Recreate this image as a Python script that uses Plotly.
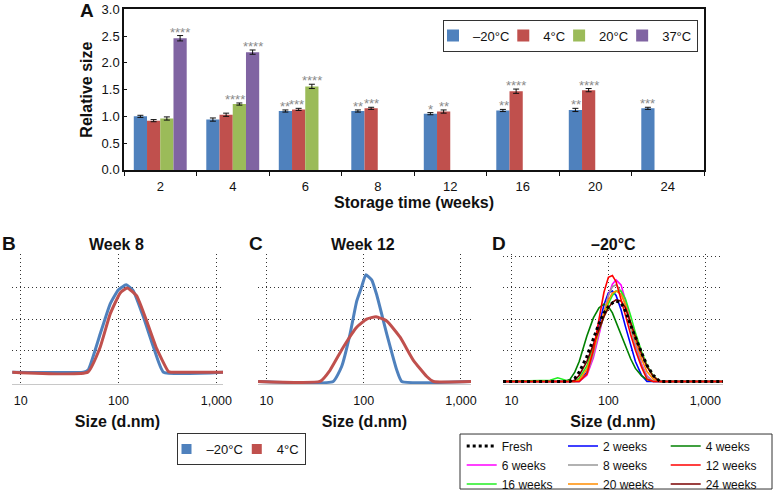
import plotly.graph_objects as go

W, H = 773, 499
FONT = "Liberation Sans, Arial, sans-serif"

# ---------------- Panel A data ----------------
weeks = ["2", "4", "6", "8", "12", "16", "20", "24"]
temps = ["–20°C", "4°C", "20°C", "37°C"]
bar_colors = ["#4F81BD", "#C0504D", "#9BBB59", "#8064A2"]

rel_m20 = [1.00, 0.94, 1.10, 1.10, 1.05, 1.11, 1.12, 1.15]
rel_4 = [0.92, 1.03, 1.13, 1.15, 1.09, 1.47, 1.49, None]
rel_20 = [0.96, 1.23, 1.56, None, None, None, None, None]
rel_37 = [2.46, 2.20, None, None, None, None, None, None]

err_m20 = [0.02, 0.03, 0.02, 0.02, 0.02, 0.02, 0.03, 0.02]
err_4 = [0.02, 0.03, 0.02, 0.02, 0.03, 0.04, 0.03, 0]
err_20 = [0.03, 0.02, 0.04, 0, 0, 0, 0, 0]
err_37 = [0.05, 0.04, 0, 0, 0, 0, 0, 0]

sig_m20 = ["", "", "**", "**", "*", "**", "**", "***"]
sig_4 = ["", "", "***", "***", "**", "****", "****", ""]
sig_20 = ["", "****", "****", "", "", "", "", ""]
sig_37 = ["****", "****", "", "", "", "", "", ""]

# ---------------- Panel B (week 8) ----------------
b_size_m20 = [8.2, 43.7, 49.2, 64.9, 82, 99.8, 119.6, 142, 180, 228, 288, 1170]
b_int_m20 = [1.5, 1.5, 1.9, 7.6, 12.4, 14.7, 15.5, 14.5, 10.3, 5.5, 1.5, 1.5]
b_size_4 = [8.2, 48.5, 64.9, 82, 104, 122.8, 153.8, 194, 245, 323, 345, 1170]
b_int_4 = [1.5, 1.5, 5.5, 10.8, 14.2, 15.0, 13.7, 9.7, 5.3, 1.6, 1.5, 1.5]

# ---------------- Panel C (week 12) ----------------
c_size_m20 = [8.2, 48.6, 59.3, 72.3, 84.7, 95.3, 104.8, 120.7, 136, 172.6, 219, 246, 1268]
c_int_m20 = [0, 0, 2.4, 7.6, 12.9, 15.2, 17.1, 16.3, 13.9, 7.6, 1.8, 0, 0]
c_size_4 = [8.2, 35.5, 45, 61.6, 84.7, 107, 134, 172.6, 236.6, 324, 445, 522, 1268]
c_int_4 = [0, 0, 1.8, 5.5, 8.7, 10.0, 10.4, 9.7, 7.1, 3.4, 0.8, 0, 0]

# ---------------- Panel D (-20 °C over time) ----------------
d_size = [8.2, 25, 30, 35, 40, 45, 50, 60, 70, 80, 90, 100, 110, 120, 135, 150,
          170, 190, 220, 250, 290, 340, 400, 1520]
d_fresh = [0, 0, 0, 0, 0, 0.5, 1.5, 4.0, 7.0, 9.3, 11.0, 12.0, 12.6, 12.9, 12.6, 11.3, 9.0, 7.0, 4.6, 2.6, 1.0, 0, 0, 0]
d_2w = [0, 0, 0, 0, 0, 0, 0, 1.5, 5.0, 9.0, 12.3, 14.2, 14.5, 13.8, 11.5, 8.8, 5.6, 3.2, 1.0, 0, 0, 0, 0, 0]
d_4w = [0, 0, 0, 0, 0.3, 1.5, 3.2, 7.3, 10.2, 11.8, 12.4, 12.0, 11.0, 9.5, 7.5, 5.5, 3.6, 2.1, 0.9, 0.3, 0, 0, 0, 0]
d_6w = [0, 0, 0, 0, 0, 0, 0, 1.0, 3.8, 7.5, 11.0, 13.8, 15.6, 16.3, 15.5, 13.0, 9.2, 6.0, 2.8, 0.9, 0, 0, 0, 0]
d_8w = [0, 0, 0, 0, 0, 0, 0, 1.2, 4.2, 8.0, 11.3, 13.8, 15.2, 15.5, 14.5, 12.2, 8.6, 5.6, 2.6, 0.8, 0, 0, 0, 0]
d_12w = [0, 0, 0, 0, 0, 0, 0, 1.2, 5.0, 10.0, 14.3, 16.7, 17.0, 16.0, 13.3, 10.6, 7.5, 5.0, 2.3, 0.4, 0, 0, 0, 0]
d_16w = [0, 0.2, 0.6, 0.3, 0, 0, 0.5, 2.5, 5.5, 8.2, 10.6, 12.5, 13.8, 14.5, 14.5, 13.2, 10.5, 7.8, 4.8, 2.6, 0.9, 0, 0, 0]
d_20w = [0, 0, 0, 0, 0, 0, 0.2, 2.0, 5.0, 8.2, 11.0, 13.0, 14.2, 14.5, 14.0, 12.3, 9.3, 6.6, 3.6, 1.6, 0.4, 0, 0, 0]
d_24w = [0, 0, 0, 0, 0, 0.2, 1.0, 3.2, 6.0, 8.4, 10.4, 11.8, 12.7, 13.1, 12.9, 11.8, 9.5, 7.2, 4.4, 2.4, 0.8, 0, 0, 0]

size_ticks = [10, 100, 1000]
size_ticktext = ["10", "100", "1,000"]


def px_x(p):
    return p / W


def px_y(p):
    return 1 - p / H


fig = go.Figure()

# ---- Panel A bars ----
A_X0, A_X1 = 124, 704
BARGAP = 0.27
series = [(rel_m20, err_m20, sig_m20), (rel_4, err_4, sig_4),
          (rel_20, err_20, sig_20), (rel_37, err_37, sig_37)]
for (vals, errs, sigs), name, col in zip(series, temps, bar_colors):
    fig.add_trace(go.Bar(
        x=weeks, y=vals, name=name, marker=dict(color=col, line=dict(width=0)),
        error_y=dict(type="data", array=errs, color="#111", thickness=1, width=3),
        xaxis="x", yaxis="y", legend="legend",
    ))

# significance stars above the bars (slot offsets follow the grouped-bar geometry);
# a label is pushed to the left edge of its slot when the next bar is clearly taller
slot_px = (A_X1 - A_X0) / len(weeks) * (1 - BARGAP) / len(series)
star_font = dict(size=13, color="#8a8a8a", family=FONT)
for k, (vals, errs, sigs) in enumerate(series):
    for i, wk in enumerate(weeks):
        if not sigs[i] or vals[i] is None:
            continue
        top = vals[i] + errs[i]
        nxt = series[k + 1][0][i] if k + 1 < len(series) else None
        centre = (k - (len(series) - 1) / 2) * slot_px
        if nxt is not None and nxt > top + 0.1:
            xs, xa = centre + slot_px / 2 + 1, "right"
        else:
            xs, xa = centre, "center"
        fig.add_annotation(x=i, y=top, xref="x", yref="y", text=sigs[i], showarrow=False,
                           xanchor=xa, yanchor="bottom", xshift=xs, yshift=-6, font=star_font)

# ---- Panel B/C lines ----
blue_l, red_l = "#4F81BD", "#C0504D"
spl = dict(width=3, shape="spline", smoothing=0.4)
fig.add_trace(go.Scatter(x=b_size_m20, y=b_int_m20, mode="lines", line=dict(color=blue_l, **spl),
                         showlegend=False, xaxis="x2", yaxis="y2"))
fig.add_trace(go.Scatter(x=b_size_4, y=b_int_4, mode="lines", line=dict(color=red_l, **spl),
                         showlegend=False, xaxis="x2", yaxis="y2"))
fig.add_trace(go.Scatter(x=c_size_m20, y=c_int_m20, mode="lines", line=dict(color=blue_l, **spl),
                         showlegend=False, xaxis="x3", yaxis="y3"))
fig.add_trace(go.Scatter(x=c_size_4, y=c_int_4, mode="lines", line=dict(color=red_l, **spl),
                         showlegend=False, xaxis="x3", yaxis="y3"))
# legend swatches for B/C
for name, col in [("–20°C", blue_l), ("4°C", red_l)]:
    fig.add_trace(go.Scatter(x=[None], y=[None], mode="markers", name=name,
                             marker=dict(symbol="square", size=10, color=col),
                             xaxis="x2", yaxis="y2", legend="legend2"))

# ---- Panel D lines ----
d_series = [
    ("2 weeks", d_2w, "#0000FF", "solid", "legend4", 1),
    ("4 weeks", d_4w, "#008000", "solid", "legend5", 1),
    ("6 weeks", d_6w, "#FF00FF", "solid", "legend3", 2),
    ("8 weeks", d_8w, "#999999", "solid", "legend4", 2),
    ("16 weeks", d_16w, "#22EE22", "solid", "legend3", 3),
    ("20 weeks", d_20w, "#FF8C00", "solid", "legend4", 3),
    ("24 weeks", d_24w, "#7A0000", "solid", "legend5", 3),
    ("12 weeks", d_12w, "#FF0000", "solid", "legend5", 2),
    ("Fresh", d_fresh, "#000000", "dot", "legend3", 1),
]
for name, vals, col, dash, leg, rank in d_series:
    fig.add_trace(go.Scatter(
        x=d_size, y=vals, mode="lines", name=name,
        line=dict(color=col, width=3 if dash == "dot" else 1.6, dash=dash),
        xaxis="x4", yaxis="y4", legend=leg, legendrank=rank,
    ))

# ---------------- Layout ----------------
axis_font = dict(family=FONT, size=13, color="#111")
title_font = dict(family=FONT, size=16, color="#111", weight="bold")

fig.update_layout(
    width=W, height=H, margin=dict(l=0, r=0, t=0, b=0),
    paper_bgcolor="white", plot_bgcolor="white",
    font=dict(family=FONT, color="#111"),
    barmode="group", bargap=BARGAP, bargroupgap=0,
    xaxis=dict(domain=[px_x(A_X0), px_x(A_X1)], type="category", categoryorder="array", categoryarray=weeks,
               range=[-0.5, len(weeks) - 0.5],
               tickson="boundaries", ticks="outside", ticklen=4, tickcolor="#111",
               showline=True, linecolor="#111", linewidth=1.5, mirror=True,
               tickfont=axis_font, automargin=False, ticklabelstandoff=4,
               title=dict(text="Storage time (weeks)", font=title_font, standoff=2)),
    yaxis=dict(domain=[px_y(173), px_y(9.5)], range=[0, 3.0], dtick=0.5, tickformat=".1f",
               ticks="inside", ticklen=3, tickcolor="#111", showgrid=False, zeroline=False,
               showline=True, linecolor="#111", linewidth=1.5, mirror=True,
               tickfont=axis_font, automargin=False,
               title=dict(text="Relative size", font=title_font, standoff=5)),
)

Y0 = -0.4
dist_y_dom = [px_y(388.5 - Y0 * 6.35), px_y(258.3)]
panels = [
    ("xaxis2", "yaxis2", [px_x(12), px_x(223)], [0.911, 3.068], [5, 10, 15]),
    ("xaxis3", "yaxis3", [px_x(258), px_x(471)], [0.913, 3.103], [5, 10, 15]),
    ("xaxis4", "yaxis4", [px_x(503), px_x(723)], [0.913, 3.182], [5, 10, 15, 20]),
]
for xa, ya, dom, rng, yt in panels:
    fig.layout[xa] = dict(
        domain=dom, type="log", range=rng, anchor=ya.replace("axis", ""),
        tickvals=size_ticks, ticktext=size_ticktext, ticks="", tickfont=dict(family=FONT, size=12.5, color="#111"),
        ticklabelstandoff=5,
        showgrid=True, gridcolor="#333", griddash="1px,3px", gridwidth=1,
        showline=True, linecolor="#c8c8c8", linewidth=1, zeroline=False, automargin=False,
        title=dict(text="Size (d.nm)", font=title_font, standoff=8),
    )
    fig.layout[ya] = dict(
        domain=dist_y_dom, range=[Y0, 20.5], anchor=xa.replace("axis", ""),
        tickvals=yt, showticklabels=False, ticks="",
        showgrid=True, gridcolor="#333", griddash="1px,3px", gridwidth=1,
        showline=False, zeroline=False, automargin=False,
    )

leg_font = dict(family=FONT, size=13, color="#111")
legd_font = dict(family=FONT, size=12, color="#111")
fig.update_layout(
    legend=dict(orientation="h", x=px_x(698), xanchor="right", y=px_y(20), yanchor="top",
                bordercolor="#333", borderwidth=1, bgcolor="white", font=leg_font,
                indentation=-11, xref="paper", yref="paper"),
    legend2=dict(orientation="h", x=px_x(241), xanchor="center", y=px_y(441), yanchor="top",
                 bordercolor="#333", borderwidth=1, bgcolor="white", font=leg_font,
                 indentation=-11, xref="paper", yref="paper"),
    legend3=dict(orientation="v", x=px_x(461.7), xanchor="left", y=px_y(439.5), yanchor="top",
                 borderwidth=0, bgcolor="rgba(0,0,0,0)", font=legd_font),
    legend4=dict(orientation="v", x=px_x(563), xanchor="left", y=px_y(439.5), yanchor="top",
                 borderwidth=0, bgcolor="rgba(0,0,0,0)", font=legd_font),
    legend5=dict(orientation="v", x=px_x(665.7), xanchor="left", y=px_y(439.5), yanchor="top",
                 borderwidth=0, bgcolor="rgba(0,0,0,0)", font=legd_font),
)

# frame around the three-column legend of panel D
fig.add_shape(type="rect", xref="paper", yref="paper",
              x0=px_x(460), x1=px_x(772), y0=px_y(498), y1=px_y(442),
              line=dict(color="#333", width=1), fillcolor="rgba(0,0,0,0)", layer="below")

letter_font = dict(family=FONT, size=19, color="#111", weight="bold")
ptitle_font = dict(family=FONT, size=16, color="#111", weight="bold")
letters = [("A", 78, 11), ("B", 0, 248), ("C", 247, 248), ("D", 490, 248)]
for txt, x, y in letters:
    fig.add_annotation(text=txt, x=px_x(x), y=px_y(y), xref="paper", yref="paper",
                       showarrow=False, xanchor="left", yanchor="middle", font=letter_font)
ptitles = [("Week 8", 117, 249), ("Week 12", 363, 249), ("–20°C", 613, 249)]
for txt, x, y in ptitles:
    fig.add_annotation(text=txt, x=px_x(x), y=px_y(y), xref="paper", yref="paper",
                       showarrow=False, xanchor="center", yanchor="middle", font=ptitle_font)

# the page's default 8px body margin would shift the figure; remove it
fig.write_html("out.html", config={"displayModeBar": False},
               post_script="document.body.style.margin='0';")
